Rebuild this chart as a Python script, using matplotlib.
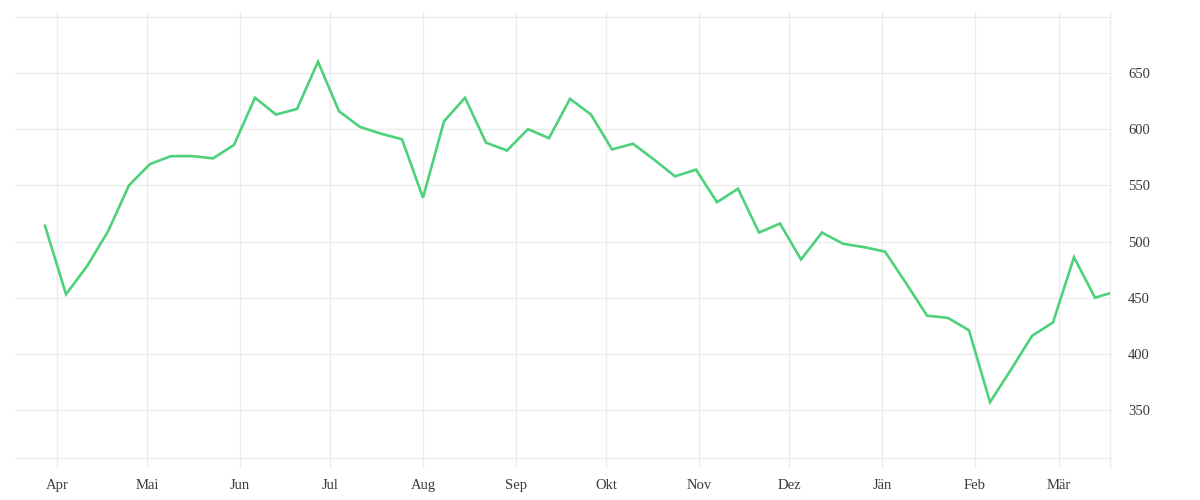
import numpy as np
import pandas as pd
import matplotlib
matplotlib.use("Agg")
import matplotlib.pyplot as plt
import matplotlib.dates as mdates

# Wochenwerte
start_date = "2022-03-28"
values = [
    514, 453, 478, 509, 550, 569, 576, 576, 574, 586,
    628, 613, 618, 660, 616, 602, 596, 591, 539, 607,
    628, 588, 581, 600, 592, 627, 613, 582, 587, 573,
    558, 564, 535, 547, 508, 516, 484, 508, 498, 495,
    491, 463, 434, 432, 421, 357, 386, 416, 428, 486,
    450, 454,
]
last_date = "2023-03-18"
month_labels = ["Apr", "Mai", "Jun", "Jul", "Aug", "Sep", "Okt", "Nov", "Dez", "Jän", "Feb", "Mär"]
y_ticks = [350, 400, 450, 500, 550, 600, 650, 700]

dates = list(pd.date_range(start_date, periods=len(values) - 1, freq="7D")) + [pd.Timestamp(last_date)]

grid_color = "#ececec"
text_color = "#3a3a3a"
line_color = "#4dd27b"

plt.rcParams["font.family"] = ["Liberation Serif", "DejaVu Serif"]

fig = plt.figure(figsize=(12, 5), dpi=100)
ax = fig.add_axes([15 / 1200, 1 - 468 / 500, (1110 - 15) / 1200, (468 - 12) / 500])

ax.plot(dates, values, color=line_color, lw=1.9, solid_joinstyle="miter", zorder=3)

ax.set_xlim(pd.Timestamp("2022-03-18"), pd.Timestamp(last_date))
ax.set_ylim(298.4, 704.3)

# Monatsanfänge als Raster
month_starts = pd.date_range("2022-04-01", periods=len(month_labels), freq="MS")
ax.set_xticks(month_starts)
ax.set_xticklabels(month_labels)

ax.yaxis.tick_right()
ax.set_yticks(y_ticks)
ax.set_yticklabels([str(v) if v < 700 else "" for v in y_ticks])

ax.grid(True, color=grid_color, lw=1)
ax.axhline(307, color=grid_color, lw=1, zorder=1)
ax.set_axisbelow(True)

for side in ["top", "left", "bottom"]:
    ax.spines[side].set_visible(False)
ax.spines["right"].set_color(grid_color)
ax.spines["right"].set_linewidth(1)

ax.tick_params(axis="x", length=0, pad=8, labelsize=10.5, labelcolor=text_color)
ax.tick_params(axis="y", length=0, pad=13, labelsize=10.5, labelcolor=text_color)

fig.savefig("out.png", dpi=100, facecolor="white")
